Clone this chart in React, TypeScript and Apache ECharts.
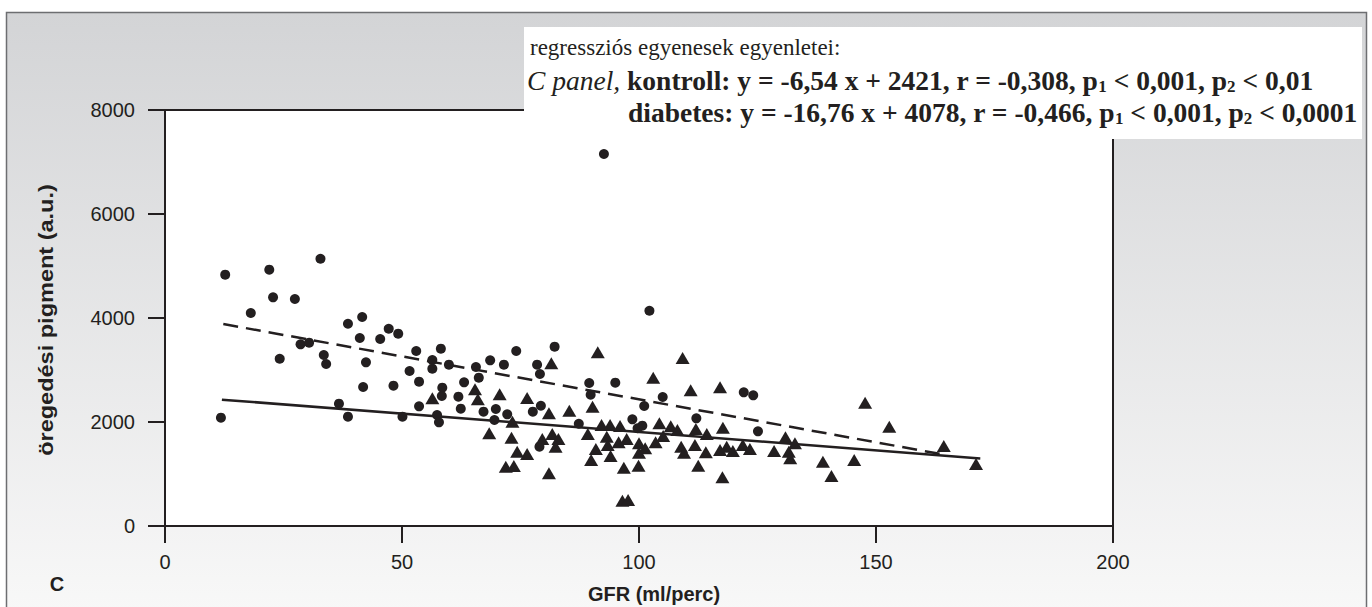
import { useEffect, useRef } from "react";
import * as echarts from "echarts";

const xTicks = [0, 50, 100, 150, 200];
const yTicks = [0, 2000, 4000, 6000, 8000];

const xAxisTitle = "GFR (ml/perc)";
const yAxisTitle = "öregedési pigment (a.u.)";
const panelLetter = "C";

// circles (upper group, dashed regression line)
const circlePoints: [number, number][] = [
  [12.7, 4833], [22.0, 4929], [32.8, 5140], [22.8, 4398], [27.4, 4365], [18.1, 4096],
  [38.6, 3890], [41.6, 4019], [47.2, 3794], [49.2, 3698], [28.6, 3494], [30.4, 3525],
  [41.1, 3615], [45.4, 3596], [24.2, 3217], [33.5, 3288], [34.0, 3115], [42.4, 3148],
  [41.8, 2673], [48.2, 2698], [36.7, 2352], [11.8, 2083], [38.6, 2102], [50.1, 2102],
  [53.0, 3365], [58.2, 3410], [56.4, 3192], [56.4, 3025], [59.9, 3102], [51.6, 2981],
  [53.6, 2775], [65.6, 3058], [66.2, 2852], [63.1, 2763], [68.6, 3186], [71.5, 3102],
  [74.1, 3365], [82.2, 3448], [78.5, 3102], [79.1, 2923], [58.5, 2660], [58.4, 2500],
  [61.9, 2487], [53.6, 2302], [62.4, 2256], [67.2, 2198], [69.8, 2250], [72.2, 2148],
  [57.4, 2135], [57.8, 1994], [69.5, 2038], [79.3, 2313], [77.6, 2198], [89.5, 2750],
  [95.0, 2756], [89.8, 2525], [87.3, 1967], [79.0, 1525], [92.6, 7154], [102.2, 4140],
  [105.0, 2481], [101.1, 2308], [122.1, 2571], [124.1, 2513], [112.1, 2071], [98.6, 2052],
  [100.7, 1929], [99.7, 1879], [125.1, 1821],
];

// triangles (lower group, solid regression line)
const trianglePoints: [number, number][] = [
  [91.3, 3340], [81.5, 3129], [56.4, 2456], [65.4, 2629], [66.0, 2436], [70.6, 2533],
  [76.4, 2462], [81.0, 2167], [85.3, 2217], [90.2, 2294], [73.3, 2006], [68.4, 1783],
  [73.1, 1698], [74.3, 1429], [76.4, 1385], [71.9, 1140], [73.6, 1154], [81.0, 1013],
  [79.6, 1673], [81.7, 1769], [83.0, 1673], [82.4, 1525], [89.2, 1769], [92.1, 1942],
  [93.9, 1942], [96.0, 1923], [93.2, 1717], [90.9, 1481], [93.4, 1558], [95.7, 1610],
  [97.4, 1673], [89.9, 1269], [94.0, 1346], [96.8, 1121], [96.5, 487], [97.7, 500],
  [109.2, 3231], [103.0, 2852], [110.9, 2610], [117.1, 2667], [117.7, 1890], [130.9, 1706],
  [132.9, 1590], [104.3, 1975], [106.7, 1917], [108.1, 1846], [112.0, 1865], [114.3, 1769],
  [100.0, 1590], [100.0, 1410], [99.9, 1160], [101.3, 1494], [103.5, 1610], [105.1, 1731],
  [108.9, 1525], [109.5, 1410], [111.8, 1558], [114.1, 1417], [112.5, 1160], [117.1, 1461],
  [118.5, 1525], [119.8, 1442], [117.6, 937], [121.9, 1558], [123.4, 1481], [128.5, 1442],
  [131.6, 1429], [131.9, 1302], [138.8, 1237], [140.6, 962], [147.7, 2372], [152.8, 1910],
  [164.3, 1538], [171.1, 1192], [145.4, 1269],
];

const dashedLine: [number, number][] = [[12.3, 3884], [164.5, 1370]];
const solidLine: [number, number][] = [[12.0, 2430], [172.0, 1300]];

const noteTitle = "regressziós egyenesek egyenletei:";
const notePanel = "C panel, ";
const noteKontroll = ["kontroll: y = -6,54 x + 2421, r = -0,308, p", "1", " < 0,001, p", "2", " < 0,01"];
const noteDiabetes = ["diabetes: y = -16,76 x + 4078, r = -0,466, p", "1", " < 0,001, p", "2", " < 0,0001"];

const INK = "#231f20";

function richLine(parts: string[]) {
  return `{b|${parts[0]}}{s|${parts[1]}}{b|${parts[2]}}{s|${parts[3]}}{b|${parts[4]}}`;
}

export default function App() {
  const ref = useRef<HTMLDivElement>(null);
  useEffect(() => {
    if (!ref.current) return;
    const chart = echarts.init(ref.current, null, { renderer: "svg" });
    const serif = "'Liberation Serif', 'Times New Roman', serif";
    const sans = "'Liberation Sans', Arial, sans-serif";
    const rich = {
      b: { fontFamily: serif, fontWeight: "bold", fontSize: 27.5, fill: INK, color: INK },
      i: { fontFamily: serif, fontStyle: "italic", fontSize: 27.5, fill: INK, color: INK },
      s: { fontFamily: serif, fontWeight: "bold", fontSize: 17, fill: INK, color: INK, padding: [12, 0, 0, 0] },
    };
    chart.setOption({
      animation: false,
      graphic: [
        {
          type: "rect",
          z: -100,
          silent: true,
          shape: { x: 6.5, y: 12.5, width: 1360, height: 600 },
          style: {
            fill: new echarts.graphic.LinearGradient(0, 0, 0, 1, [
              { offset: 0, color: "#d3d4d6" },
              { offset: 1, color: "#f8f8f8" },
            ]),
            stroke: "#6d6e71",
            lineWidth: 1.5,
          },
        },
        {
          type: "rect",
          z: 100,
          shape: { x: 524, y: 27, width: 838, height: 112 },
          style: { fill: "#ffffff" },
        },
        {
          type: "text",
          z: 101,
          x: 530,
          y: 47,
          style: {
            text: noteTitle,
            font: `23px ${serif}`,
            fill: INK,
            verticalAlign: "middle",
          },
        },
        {
          type: "text",
          z: 101,
          x: 527,
          y: 80,
          style: {
            text: `{i|${notePanel}}` + richLine(noteKontroll),
            rich,
            verticalAlign: "middle",
          },
        },
        {
          type: "text",
          z: 101,
          x: 628,
          y: 112,
          style: {
            text: richLine(noteDiabetes),
            rich,
            verticalAlign: "middle",
          },
        },
        {
          type: "text",
          z: 101,
          x: 57,
          y: 584,
          style: {
            text: panelLetter,
            font: `bold 20px ${sans}`,
            fill: INK,
            align: "center",
            verticalAlign: "middle",
          },
        },
        {
          type: "text",
          z: 101,
          x: 654,
          y: 594,
          style: {
            text: xAxisTitle,
            font: `bold 20px ${sans}`,
            fill: INK,
            align: "center",
            verticalAlign: "middle",
          },
        },
        {
          type: "text",
          z: 101,
          x: 46,
          y: 320,
          rotation: Math.PI / 2,
          scaleX: 1.12,
          style: {
            text: yAxisTitle,
            font: `bold 21px ${sans}`,
            fill: INK,
            align: "center",
            verticalAlign: "middle",
          },
        },
      ],
      grid: {
        left: 165,
        top: 110,
        width: 948,
        height: 416,
        show: true,
        backgroundColor: "#ffffff",
        borderColor: INK,
        borderWidth: 2,
      },
      xAxis: {
        type: "value",
        min: xTicks[0],
        max: xTicks[xTicks.length - 1],
        interval: xTicks[1] - xTicks[0],
        axisLine: { show: true, lineStyle: { color: INK, width: 2 } },
        axisTick: { show: true, length: 17, lineStyle: { color: INK, width: 2 } },
        splitLine: { show: false },
        axisLabel: { fontSize: 20, color: INK, fontFamily: sans, margin: 26 },
      },
      yAxis: {
        type: "value",
        min: yTicks[0],
        max: yTicks[yTicks.length - 1],
        interval: yTicks[1] - yTicks[0],
        axisLine: { show: true, lineStyle: { color: INK, width: 2 } },
        axisTick: { show: true, length: 17, lineStyle: { color: INK, width: 2 } },
        splitLine: { show: false },
        axisLabel: {
          fontSize: 20,
          color: INK,
          fontFamily: sans,
          margin: 30,
          formatter: (v: number) => String(v),
        },
      },
      series: [
        {
          type: "line",
          data: dashedLine,
          symbol: "none",
          lineStyle: { color: INK, width: 2.5, type: [15, 8] },
          z: 3,
        },
        {
          type: "line",
          data: solidLine,
          symbol: "none",
          lineStyle: { color: INK, width: 2.5 },
          z: 3,
        },
        {
          type: "scatter",
          data: circlePoints,
          symbol: "circle",
          symbolSize: 10,
          itemStyle: { color: INK, opacity: 1 },
          z: 4,
        },
        {
          type: "scatter",
          data: trianglePoints,
          symbol: "triangle",
          symbolSize: [14, 12],
          itemStyle: { color: INK, opacity: 1 },
          z: 4,
        },
      ],
    });
    return () => chart.dispose();
  }, []);
  return (
    <div
      ref={ref}
      style={{ position: "absolute", left: 0, top: 0, width: 1372, height: 607 }}
    />
  );
}
